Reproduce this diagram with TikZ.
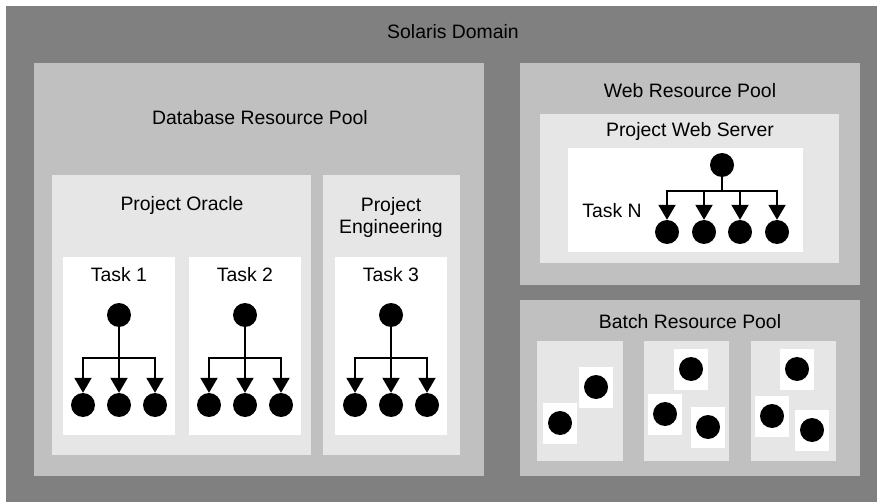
\documentclass[tikz,border=0pt]{standalone}
\usepackage{fontspec}
\setmainfont{Liberation Sans}
\usetikzlibrary{arrows.meta}

\definecolor{domaingray}{HTML}{808080}
\definecolor{poolgray}{HTML}{C0C0C0}
\definecolor{projectgray}{HTML}{E6E6E6}

\tikzstyle{domainbox} = [fill=domaingray]
\tikzstyle{poolbox} = [fill=poolgray]
\tikzstyle{projectbox} = [fill=projectgray]
\tikzstyle{taskbox} = [fill=white]
\tikzstyle{boxtitle} = [anchor=base,inner sep=0pt,font=\fontsize{19.4}{22.5}\selectfont]
\tikzstyle{job} = [circle,fill=black,minimum size=24pt,inner sep=0pt]
\tikzstyle{slot} = [fill=white,minimum width=34pt,minimum height=41pt,inner sep=0pt]
\tikzstyle{treeline} = [draw,line width=2pt]
\tikzstyle{arrowdecorate} = [treeline,-{Triangle[width=17pt,length=15pt]}]

\begin{document}
\begin{tikzpicture}[x=1pt,y=-1pt]
    \useasboundingbox (0,0) rectangle (877,502);

    % boxes, outermost first
    \foreach \xa/\ya/\xb/\yb/\kind in {
      6/6/877/502/domainbox,
      34/63/484/476/poolbox, 520/63/860/285/poolbox, 520/300/860/476/poolbox,
      52/175/311/455/projectbox, 323/175/460/455/projectbox, 540/114/839/263/projectbox,
      537/341/623/461/projectbox, 644/341/729/461/projectbox, 751/341/836/461/projectbox,
      63/257/175/435/taskbox, 189/257/301/435/taskbox, 335/257/447/435/taskbox,
      568/148/803/252/taskbox}
    {
      \path[\kind] (\xa,\ya) rectangle (\xb,\yb);
    }

    % titles
    \foreach \name/\x/\y/\text in {
      domaintitle/453/39/Solaris Domain,
      dbtitle/260/125/Database Resource Pool,
      webtitle/690/98/Web Resource Pool,
      batchtitle/690/328/Batch Resource Pool,
      oracletitle/182/211/Project Oracle,
      webservertitle/690/137/Project Web Server,
      taska/119/282/Task 1, taskb/245/282/Task 2, taskc/391/282/Task 3,
      taskn/612/218/Task N}
    {
      \node[boxtitle] (\name) at (\x,\y) {\text};
    }
    \node[boxtitle,anchor=north,align=center] (engtitle) at (391,197) {Project\\Engineering};

    % task trees
    \foreach \t/\x in {ta/119, tb/245, tc/391}
    {
      \node[job] (\t root) at (\x,315) {};
      \coordinate (\t bar) at (\x,358);
      \draw[treeline] (\t root) -- (\t bar);
      \foreach \i/\dx in {1/-36, 2/0, 3/36}
      {
        \node[job] (\t\i) at (\x+\dx,405) {};
        \draw[arrowdecorate] (\t bar) -| (\t\i);
      }
    }

    \node[job] (tnroot) at (722,165) {};
    \coordinate (tnbar) at (722,191);
    \draw[treeline] (tnroot) -- (tnbar);
    \foreach \i/\dx in {1/-55, 2/-18, 3/18, 4/55}
    {
      \node[job] (tn\i) at (722+\dx,232) {};
      \draw[arrowdecorate] (tnbar) -| (tn\i);
    }

    % batch jobs
    \foreach \name/\x/\y in {
      ba/596/387, bb/560/423,
      bc/691/369, bd/665/414, be/708/427,
      bf/797/369, bg/772/416, bh/812/430}
    {
      \node[slot] (\name slot) at (\x,\y) {};
      \node[job] (\name) at (\x,\y) {};
    }

\end{tikzpicture}
\end{document}
